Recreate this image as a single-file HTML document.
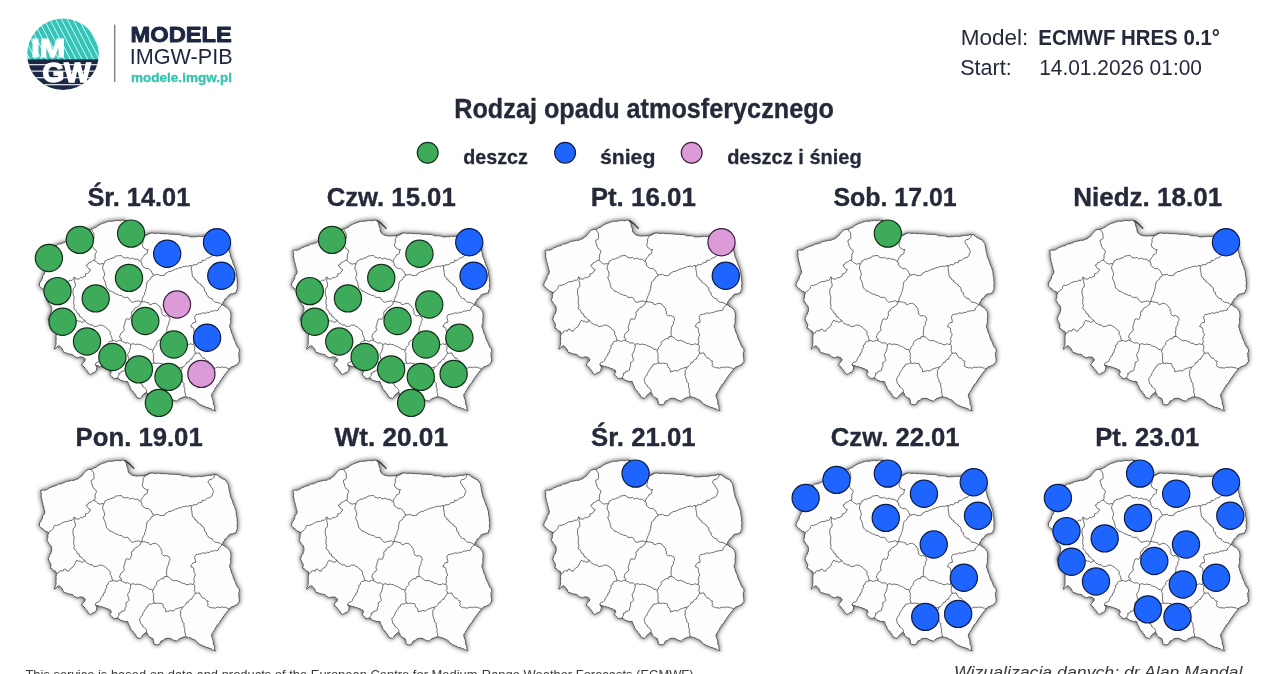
<!DOCTYPE html>
<html><head><meta charset="utf-8">
<style>
html,body{margin:0;padding:0;background:#fff;}
body{width:1280px;height:674px;position:relative;overflow:hidden;}
svg{position:absolute;left:0;top:0;font-family:"Liberation Sans",sans-serif;}
</style></head>
<body>
<svg width="1280" height="674" viewBox="0 0 1280 674">
<defs>
 <filter id="sh" filterUnits="userSpaceOnUse" x="15" y="200" width="250" height="235">
  <feGaussianBlur in="SourceAlpha" stdDeviation="2.5"/>
  <feOffset dx="0.3" dy="0.4" result="b"/>
  <feComponentTransfer><feFuncA type="linear" slope="0.75"/></feComponentTransfer>
  <feMerge><feMergeNode/><feMergeNode in="SourceGraphic"/></feMerge>
 </filter>
 <g id="pl">
  <path d="M124.8 220.6 128.9 223.3 133.7 228.2" fill="none" stroke="#444" stroke-width="1.5" stroke-linecap="round" filter="url(#sh)"/>
  <path d="M40.6 250.5 42.6 250.1 44.6 250.2 46.2 249.8 47.7 249.1 49.0 248.0 50.5 247.5 52.0 246.8 53.5 246.2 55.0 245.8 56.6 245.4 57.9 244.3 59.3 243.8 61.0 243.9 62.4 243.0 64.0 242.8 65.3 241.7 66.9 241.5 68.4 241.0 70.0 240.9 71.6 240.2 73.3 240.4 74.9 240.0 76.3 239.0 78.0 239.1 78.8 237.8 80.2 237.1 81.5 236.3 82.4 235.0 83.5 233.7 84.5 232.4 85.7 231.4 86.9 230.2 88.3 229.5 89.9 229.4 91.4 229.3 93.1 228.5 94.8 227.7 96.5 226.9 98.1 225.5 100.0 224.5 101.5 223.7 103.1 223.1 104.8 222.7 106.3 222.0 108.0 221.6 109.6 221.0 111.4 221.4 113.0 221.0 114.7 220.8 116.3 220.5 117.8 220.2 119.3 220.8 120.8 220.7 122.3 220.0 123.8 220.3 125.9 222.4 126.5 223.9 126.7 225.6 127.2 227.1 127.9 228.6 128.0 230.8 128.8 232.8 130.1 233.8 131.3 234.8 133.2 235.5 135.1 235.8 137.1 236.1 138.7 235.8 140.4 235.8 142.1 235.9 143.8 235.7 145.4 235.3 147.0 234.6 148.7 234.0 150.3 233.2 151.9 232.9 153.5 233.1 155.1 233.6 156.7 233.3 158.2 233.1 159.8 233.5 161.4 233.6 163.0 233.5 164.5 233.8 166.1 233.6 167.6 233.8 169.1 234.0 170.7 234.3 172.2 234.2 173.7 234.2 175.3 234.4 176.8 234.5 178.4 234.4 180.0 234.6 181.4 235.4 182.9 235.8 184.5 235.7 186.1 235.8 187.7 235.8 189.2 236.3 190.7 237.0 192.3 236.8 193.9 236.9 195.4 236.6 197.0 236.8 198.5 236.2 200.1 236.3 201.7 236.6 203.2 236.2 204.8 236.0 206.5 235.7 208.1 235.3 209.9 235.3 211.6 235.4 213.2 234.4 214.9 234.5 217.6 235.0 218.6 236.3 219.9 237.2 221.5 238.2 223.2 239.1 225.1 239.6 225.9 241.0 226.8 242.3 228.0 243.4 228.4 245.3 228.8 247.1 229.0 248.8 229.3 250.6 229.5 252.3 230.3 253.9 230.2 255.8 231.0 257.4 231.5 258.9 232.3 260.3 232.6 261.9 233.2 263.4 233.8 265.0 234.5 266.6 235.1 268.2 235.6 269.9 236.2 271.5 236.3 273.2 236.4 274.9 236.7 276.6 237.2 278.3 237.0 280.0 237.3 281.6 237.5 283.3 237.2 284.9 237.1 286.6 237.5 288.2 236.8 289.7 236.3 291.3 236.0 293.0 234.4 293.1 232.9 293.9 231.2 293.9 229.7 294.5 228.4 295.5 227.6 297.0 226.4 298.2 225.0 299.0 224.6 300.6 223.3 301.7 222.9 303.3 222.0 304.6 223.5 305.1 224.6 306.3 226.0 306.9 227.3 307.8 228.7 309.1 229.8 310.6 230.7 312.2 230.7 313.9 231.0 315.6 230.9 317.2 230.5 318.9 230.7 320.6 230.7 322.3 230.4 323.8 229.9 325.2 229.5 326.7 230.4 328.3 230.7 330.0 231.3 331.7 231.8 333.4 232.6 334.7 233.2 336.1 233.2 337.7 234.0 339.0 234.7 340.8 235.7 342.6 236.2 344.5 237.0 345.9 237.7 347.4 239.1 348.5 239.6 350.1 239.4 351.9 238.5 353.5 239.0 355.0 238.8 356.6 239.4 358.1 239.2 359.7 239.6 361.2 238.3 362.8 237.3 364.6 235.5 365.3 233.7 366.3 231.8 366.8 230.4 367.7 229.4 368.9 228.4 370.2 227.3 371.3 226.4 372.9 225.1 374.1 224.2 375.6 223.1 377.0 222.1 378.4 221.3 379.9 220.2 381.1 219.6 382.7 218.5 384.0 217.1 385.1 216.5 386.7 215.4 387.9 215.0 389.5 213.8 390.7 213.4 392.2 212.1 393.4 211.6 394.9 211.7 396.6 212.3 398.1 212.8 399.7 213.3 401.3 213.3 403.0 213.5 404.7 214.6 406.1 214.4 407.8 214.8 409.4 215.6 410.9 214.2 410.3 212.7 410.0 211.5 408.9 210.0 408.6 208.2 407.7 206.2 407.5 204.9 406.6 203.4 406.1 201.9 405.4 200.5 404.7 199.1 403.9 197.7 402.9 196.8 401.5 195.5 400.4 193.7 399.5 191.9 398.8 190.2 397.7 188.6 397.7 187.2 397.0 185.7 396.8 183.0 397.3 181.3 398.1 179.5 398.6 178.2 400.0 176.8 401.3 174.1 400.4 172.3 399.6 170.6 398.6 168.8 398.3 167.0 398.3 165.2 398.6 163.9 399.8 162.4 400.6 160.8 401.3 160.0 403.1 159.0 404.8 156.4 404.8 153.7 403.9 153.8 402.1 153.3 400.3 152.8 398.6 150.9 397.8 149.2 396.8 148.1 395.5 147.6 393.8 146.6 392.4 145.1 393.0 143.9 394.1 142.4 395.4 141.6 397.2 140.3 398.6 138.6 397.9 136.8 397.7 136.0 395.8 135.0 394.1 133.7 392.7 132.8 391.1 131.2 390.0 130.3 388.4 130.0 386.7 128.9 385.2 128.3 383.5 127.9 381.8 126.2 381.4 124.5 381.6 121.9 380.6 120.2 380.0 118.7 378.7 117.0 378.1 115.4 378.4 113.8 378.9 113.0 377.5 111.7 376.5 110.6 375.3 109.7 374.0 111.3 372.4 110.5 370.0 109.0 369.7 107.7 368.7 106.1 368.4 104.8 367.7 103.2 367.5 101.7 366.6 99.9 366.7 98.5 365.8 96.8 365.6 95.3 364.7 96.9 367.1 96.7 368.8 96.2 370.5 95.3 372.0 93.5 372.6 91.9 373.5 90.4 374.5 88.4 373.4 87.8 371.7 86.7 370.3 85.2 368.6 84.0 366.8 81.8 365.4 82.2 363.7 83.6 362.4 84.9 361.0 85.3 359.2 83.6 357.4 81.6 357.0 79.6 357.0 77.8 357.9 76.2 357.3 74.7 356.6 73.4 355.4 72.0 354.3 70.4 354.3 68.9 353.9 67.2 353.6 65.8 352.6 64.4 353.0 63.4 351.5 62.7 349.9 62.1 348.5 60.9 347.5 60.0 346.3 58.6 345.9 57.0 346.7 55.9 348.1 54.5 349.2 54.7 347.5 55.5 346.0 56.0 344.3 56.1 342.6 55.8 341.0 56.3 339.5 55.9 338.0 56.0 336.4 56.3 334.9 56.3 333.0 55.6 331.2 54.1 330.8 52.9 329.9 51.9 328.6 50.4 328.2 50.7 326.3 51.1 324.5 50.1 323.1 49.4 321.6 48.7 320.1 48.2 318.5 49.0 317.2 49.2 315.6 50.5 314.4 50.8 312.9 51.5 311.5 51.7 309.6 51.6 307.7 51.1 305.9 50.0 304.7 48.9 303.4 48.1 302.0 47.1 300.7 47.1 299.1 47.9 297.6 47.7 296.0 48.0 294.5 48.7 293.0 47.3 291.8 45.6 291.3 44.2 290.4 43.1 289.1 41.8 288.2 40.5 287.2 39.3 286.0 39.4 283.9 40.1 282.0 41.1 280.8 41.8 279.5 42.5 278.1 42.5 276.5 43.3 275.2 44.2 274.0 44.8 272.6 44.8 271.0 44.1 269.5 43.9 267.9 43.5 266.3 42.9 264.9 42.8 263.3 42.2 261.7 41.8 260.2 41.7 258.6 41.1 257.0 41.1 255.4 41.4 253.7 40.8 252.1 40.6 250.5Z" fill="#fdfdfd" stroke="#464646" stroke-width="0.9" stroke-linejoin="round" filter="url(#sh)"/>
  <path d="M91.4 229.3 92.4 231.1 93.6 232.8 94.0 234.5 93.9 236.3 94.3 238.0 93.1 239.5 91.3 240.2 91.2 242.2 92.1 244.0 92.3 245.9 93.3 247.5 94.3 249.1 95.8 250.0 96.5 251.7 95.7 253.4 95.0 255.1 95.1 256.9 95.0 258.6 94.4 260.3 M94.4 260.3 95.7 261.2 96.7 262.4 98.0 263.3 99.9 264.2 101.9 263.6 103.9 263.9 104.5 262.4 105.1 260.9 106.6 260.5 107.7 259.2 109.4 259.2 110.9 258.8 112.2 258.0 114.1 257.9 115.5 256.1 117.4 255.9 119.3 255.6 121.3 255.5 122.7 257.3 124.5 257.7 126.4 258.0 127.9 257.2 129.4 258.8 130.9 258.8 132.4 258.0 133.7 258.8 135.1 259.3 136.8 259.2 138.3 259.6 139.3 261.0 140.7 261.5 M140.7 261.5 141.5 259.2 142.5 257.7 143.7 256.3 144.5 254.7 146.1 254.2 147.4 253.2 147.2 251.2 148.2 249.5 146.4 249.8 145.1 248.7 143.7 248.0 142.6 246.3 142.2 244.3 143.0 242.6 143.1 240.9 143.0 239.1 143.9 237.7 144.5 236.2 146.0 235.5 147.5 234.9 148.6 233.4 150.3 233.2 M140.7 261.5 141.8 263.0 141.9 265.0 143.0 266.6 144.5 267.6 146.1 268.6 148.2 268.3 149.6 269.5 151.1 270.7 151.9 272.5 153.4 275.0 M153.4 275.0 156.3 274.7 158.1 274.2 159.6 275.4 161.3 275.6 163.0 275.5 164.9 275.1 165.7 273.2 167.4 272.5 169.0 271.4 171.0 271.4 172.6 270.3 174.2 270.0 175.5 268.9 177.2 268.9 178.6 268.1 180.0 267.6 181.7 267.8 182.9 266.3 184.5 266.6 186.0 265.9 187.8 266.8 189.2 265.6 190.8 265.6 M190.8 265.6 192.5 266.1 193.7 264.3 195.4 264.9 197.1 264.5 198.1 262.9 199.8 262.6 201.7 262.4 202.4 260.1 204.6 260.5 206.0 259.3 207.3 258.2 209.3 257.7 211.1 256.9 212.4 255.2 212.7 253.2 213.9 251.5 212.9 250.3 212.7 248.6 211.4 247.7 210.6 246.3 210.2 244.8 208.7 243.6 208.0 241.9 209.5 239.6 211.3 239.3 212.7 238.6 213.9 237.2 214.9 234.8 M190.8 265.6 191.3 267.3 191.3 269.0 191.7 270.7 191.9 272.4 192.2 274.1 192.3 275.8 193.0 277.2 194.5 278.0 194.9 279.7 196.7 280.3 197.0 282.0 198.4 282.7 199.6 283.7 201.1 284.3 201.7 286.1 203.2 286.7 204.3 288.1 204.3 290.0 204.9 291.7 206.7 292.7 206.5 294.8 207.9 296.0 208.8 297.5 210.2 298.4 212.2 298.7 212.9 300.3 214.1 301.5 215.6 302.3 217.4 302.4 219.0 302.9 220.5 303.7 222.0 304.6 M222.0 304.6 221.1 305.9 219.8 307.0 218.6 308.2 218.4 310.0 217.0 310.7 215.4 310.3 214.0 311.1 212.3 311.0 210.6 311.4 209.1 312.6 207.3 312.2 205.9 313.3 204.1 313.1 202.4 312.8 201.0 313.9 199.3 313.8 197.8 314.5 196.1 314.5 195.2 315.8 194.6 317.2 195.0 318.9 195.5 320.6 195.6 322.3 193.2 322.7 191.7 324.5 190.6 326.7 192.7 327.2 193.9 329.0 193.8 330.6 194.0 332.1 195.0 333.4 195.4 335.0 194.3 336.5 194.3 338.1 193.5 339.5 194.6 341.2 193.8 342.7 193.7 344.3 M153.4 275.0 152.8 276.5 151.1 277.1 150.5 278.7 149.6 280.0 148.2 280.8 147.1 282.0 146.8 283.6 146.5 285.1 146.3 286.7 146.3 288.3 145.6 289.8 145.6 291.4 144.5 292.6 144.6 294.3 143.7 295.6 143.1 297.0 142.5 298.4 142.0 299.8 142.3 301.5 M103.9 263.9 103.0 265.6 102.7 267.4 102.7 269.0 103.6 270.4 104.0 271.9 104.5 273.4 104.5 275.4 103.3 277.2 103.9 279.3 104.7 280.9 105.4 282.5 105.7 284.2 106.2 285.8 106.3 287.6 107.7 288.6 108.9 289.7 109.8 291.2 111.7 291.3 113.1 292.4 114.7 293.1 116.1 294.2 117.9 294.3 119.3 295.5 121.0 295.4 122.3 296.2 123.5 297.3 125.6 297.4 127.7 297.4 129.0 298.5 129.8 300.2 130.9 301.5 132.5 302.4 134.5 301.7 136.6 301.3 138.5 300.7 140.4 301.8 142.3 301.5 M94.4 260.3 92.7 260.5 91.5 261.6 90.0 262.3 88.5 262.9 87.7 264.7 86.1 265.1 87.1 266.4 88.0 267.9 89.2 269.1 90.8 269.8 89.5 270.9 88.8 272.6 87.4 273.5 85.5 273.9 85.4 276.2 83.7 276.9 82.3 277.8 80.5 277.4 79.3 278.8 77.8 279.3 75.7 278.5 74.2 276.9 73.3 278.9 71.9 280.5 70.0 280.1 68.3 281.4 66.5 281.5 64.7 281.7 63.0 282.5 61.3 283.2 60.0 284.6 58.3 284.8 56.7 285.6 54.9 285.1 53.8 286.3 53.5 288.2 52.3 289.5 51.2 290.7 49.5 291.5 48.7 293.0 M74.2 276.9 75.0 278.5 74.4 280.3 74.7 281.9 75.2 283.5 75.4 285.2 75.2 286.9 73.7 288.0 73.1 289.5 73.0 291.2 73.1 293.0 73.2 294.7 73.8 296.4 74.3 298.2 73.6 300.0 73.9 301.8 73.6 303.7 74.5 305.5 73.8 307.4 74.2 309.1 75.8 310.2 76.7 311.7 77.1 313.4 79.1 314.0 79.5 316.5 81.5 317.1 82.3 318.4 83.3 319.6 84.8 320.2 M56.5 333.6 58.4 333.0 59.3 331.2 61.1 330.6 63.0 331.2 63.5 329.5 65.2 328.9 66.6 330.8 68.9 331.2 69.7 329.6 70.9 328.2 72.6 327.4 74.0 325.7 74.9 323.7 75.8 321.7 77.1 320.0 78.3 321.4 80.2 321.1 81.5 322.3 83.6 321.9 84.8 320.2 M84.8 320.2 85.7 321.9 87.0 323.2 88.9 323.8 90.1 325.1 92.2 324.6 93.3 326.1 94.8 326.7 96.3 326.3 97.8 326.2 99.1 325.2 100.6 325.1 102.2 325.3 103.8 326.3 105.5 327.1 106.7 328.5 108.2 329.7 109.7 330.8 110.3 332.3 110.1 334.3 111.1 335.6 111.7 337.3 112.1 339.1 112.6 340.8 M112.6 340.8 111.0 341.1 109.5 341.5 108.3 342.6 108.2 344.4 106.2 345.6 106.9 347.7 105.5 349.1 105.1 350.8 105.0 352.5 103.3 353.4 103.5 355.3 102.0 356.2 101.3 357.6 100.5 359.0 100.2 360.6 99.0 361.7 97.4 362.2 96.0 363.0 95.3 364.7 M112.6 340.8 114.3 340.5 116.0 341.4 117.7 341.2 119.3 340.1 121.0 340.5 M142.3 301.5 140.9 302.5 140.5 304.4 139.0 305.4 137.5 307.0 135.4 307.8 134.1 308.9 133.6 310.7 131.9 311.4 131.4 313.2 131.9 315.0 130.9 316.6 130.7 318.5 129.2 319.5 127.5 318.7 126.0 319.2 125.6 320.9 124.9 322.6 124.7 324.4 123.9 326.1 123.7 327.9 124.5 329.7 123.5 331.3 121.8 332.3 120.7 333.8 120.0 335.6 119.5 337.4 121.5 338.7 121.0 340.5 M121.0 340.5 122.5 341.4 124.0 342.1 125.4 343.2 127.5 342.7 129.1 343.2 130.4 344.5 M130.4 344.5 132.2 343.8 134.0 343.9 135.7 344.7 137.5 344.0 139.3 344.5 141.0 344.5 142.3 345.6 143.8 346.2 145.4 346.4 146.7 347.5 148.3 348.1 149.4 349.5 151.5 349.2 152.7 350.5 M152.7 350.5 153.6 349.0 154.2 347.4 155.3 346.0 156.7 344.6 156.6 342.5 157.8 341.0 159.2 340.3 160.4 339.3 161.8 338.6 163.7 338.7 164.3 336.7 166.0 336.5 M142.3 301.5 143.8 301.9 145.3 301.8 146.7 302.5 148.5 302.6 149.3 304.3 150.8 304.8 152.3 303.8 153.9 303.4 155.6 303.3 157.5 304.5 159.1 306.0 160.1 307.7 161.5 309.0 161.0 310.6 162.2 311.9 161.6 313.6 162.7 314.9 164.4 316.0 166.3 315.5 167.8 316.2 169.1 316.9 169.8 318.5 170.1 320.3 168.7 321.7 169.0 323.5 168.4 325.0 167.4 326.4 166.9 327.9 166.9 329.6 166.7 331.2 166.4 333.0 167.0 334.8 166.0 336.5 M166.0 336.5 168.0 336.7 169.5 337.8 170.9 339.1 172.4 340.2 174.0 340.9 175.8 340.4 177.5 340.8 179.0 341.8 180.8 342.0 182.1 343.5 184.1 343.1 185.5 344.3 187.1 344.7 188.8 344.6 190.4 343.7 192.1 344.4 193.7 344.3 M193.7 344.3 194.7 345.7 194.7 347.2 194.8 348.7 194.1 350.4 195.0 351.8 195.3 353.3 M195.3 353.3 197.4 353.2 199.5 352.9 200.4 355.0 201.7 356.8 202.7 358.1 204.6 358.2 205.6 359.7 206.7 360.9 208.4 361.2 207.4 362.5 208.2 364.3 207.3 365.7 208.7 366.7 210.1 367.3 211.7 367.9 213.4 367.7 215.1 368.3 216.7 367.4 218.4 367.1 220.1 367.7 221.7 366.8 223.1 367.4 224.8 367.2 226.2 367.9 228.0 368.2 229.5 369.2 M195.3 353.3 194.4 354.7 193.5 356.1 192.3 357.3 192.0 359.0 190.3 359.5 189.1 360.5 188.5 362.2 186.6 362.5 186.0 364.2 184.9 365.3 183.9 366.6 182.2 367.1 M182.2 367.1 180.5 367.7 178.8 368.0 177.2 368.7 175.5 369.2 174.1 370.4 172.5 371.1 170.7 370.3 169.2 371.2 167.5 371.3 165.9 372.0 165.7 370.2 165.3 368.5 163.6 367.3 163.1 365.6 162.7 363.9 161.1 363.4 159.4 363.4 157.8 363.0 156.1 363.5 154.5 363.1 M182.2 367.1 182.0 369.1 180.5 370.7 180.8 372.8 180.4 374.7 180.8 376.5 181.4 378.2 182.2 379.9 182.2 381.9 184.1 383.2 183.9 385.2 184.0 387.0 184.9 388.7 184.8 390.6 184.6 392.2 185.4 393.7 185.4 395.3 185.7 396.8 M152.7 350.5 152.6 352.2 153.9 353.8 153.3 355.6 153.7 357.3 153.4 359.3 153.7 361.2 154.5 363.1 M154.5 363.1 152.9 363.3 151.4 364.1 149.7 364.0 148.3 364.8 148.0 366.5 146.3 367.3 145.9 368.9 144.8 370.1 143.9 371.9 142.8 373.2 142.6 375.0 141.4 376.3 140.6 377.8 139.4 379.0 140.1 380.7 140.3 382.6 141.1 384.1 142.5 385.0 142.9 386.8 144.5 387.7 145.7 388.8 146.6 390.5 146.6 392.4 M130.4 344.5 130.7 346.7 130.1 348.8 129.7 350.3 129.3 351.9 128.4 353.1 127.6 354.5 128.1 356.4 128.5 358.4 129.3 360.2 127.9 361.7 126.0 362.6 126.0 364.5 126.1 366.4 124.9 368.1 125.2 370.0 123.7 371.1 121.7 371.0 120.6 373.1 118.7 373.2 119.1 375.0 118.1 376.6 117.6 378.2" fill="none" stroke="#474747" stroke-width="0.8" stroke-linejoin="round"/>
 </g>
</defs>

<g id="logo">
 <defs>
  <clipPath id="lc"><circle cx="63" cy="54.2" r="35.8"/></clipPath>
  <pattern id="diag" patternUnits="userSpaceOnUse" width="5.8" height="60" patternTransform="skewX(27)">
   <rect width="5.8" height="60" fill="#35c4b9"/><rect x="4.8" width="0.9" height="60" fill="#e4fffb"/>
  </pattern>
 </defs>
 <g clip-path="url(#lc)">
  <rect x="20" y="15" width="90" height="45" fill="url(#diag)"/>
  <rect x="20" y="59.4" width="90" height="35" fill="#1c2843"/>
  <rect x="20" y="64.0" width="90" height="1.3" fill="#d4dae6"/>
  <rect x="20" y="70.5" width="90" height="1.3" fill="#d4dae6"/>
  <rect x="20" y="77.0" width="90" height="1.3" fill="#d4dae6"/>
  <rect x="20" y="84.0" width="90" height="1.3" fill="#d4dae6"/>
 </g>
 <g style="opacity:0.999"><text x="31.2" y="57.3" font-size="26.5" font-weight="bold" fill="#fff" stroke="#fff" stroke-width="1.2" textLength="34.0" lengthAdjust="spacingAndGlyphs">IM</text>
 <text x="42.6" y="81.8" font-size="28" font-weight="bold" fill="#fff" stroke="#fff" stroke-width="1.4" textLength="48.2" lengthAdjust="spacingAndGlyphs">GW</text></g>
</g>

<rect x="114.3" y="24.6" width="1.0" height="57.4" fill="#474d5c"/>
<g style="opacity:0.999"><text id="modele" x="130.46" y="42.00" font-size="22.24" font-weight="bold" fill="#1c2640" stroke="#1c2640" stroke-width="0.9" stroke-linejoin="round" textLength="101.39" lengthAdjust="spacingAndGlyphs">MODELE</text>
<text id="imgw" x="129.67" y="64.10" font-size="22.31" font-weight="normal" fill="#1c2640" textLength="102.94" lengthAdjust="spacingAndGlyphs">IMGW-PIB</text>
<text id="url" x="130.98" y="81.50" font-size="12.00" font-weight="bold" fill="#33c6b0" stroke="#33c6b0" stroke-width="0.3" stroke-linejoin="round" textLength="101.08" lengthAdjust="spacingAndGlyphs">modele.imgw.pl</text>
<text id="model" x="960.77" y="45.40" font-size="22.67" font-weight="normal" fill="#252a3a" textLength="67.52" lengthAdjust="spacingAndGlyphs">Model:</text>
<text id="ecmwf" x="1038.27" y="45.40" font-size="22.67" font-weight="bold" fill="#252a3a" textLength="181.69" lengthAdjust="spacingAndGlyphs">ECMWF HRES 0.1°</text>
<text id="start" x="960.23" y="75.10" font-size="22.67" font-weight="normal" fill="#252a3a" textLength="51.45" lengthAdjust="spacingAndGlyphs">Start:</text>
<text id="date" x="1039.14" y="75.10" font-size="22.67" font-weight="normal" fill="#252a3a" textLength="162.84" lengthAdjust="spacingAndGlyphs">14.01.2026 01:00</text>
<text id="title" x="454.25" y="118.30" font-size="27.80" font-weight="bold" fill="#252a3a" stroke="#252a3a" stroke-width="0.35" stroke-linejoin="round" textLength="379.75" lengthAdjust="spacingAndGlyphs">Rodzaj opadu atmosferycznego</text>
<text id="l1" x="463.20" y="163.90" font-size="21.00" font-weight="bold" fill="#252a3a" stroke="#252a3a" stroke-width="0.3" stroke-linejoin="round" textLength="64.62" lengthAdjust="spacingAndGlyphs">deszcz</text>
<text id="l2" x="599.97" y="163.90" font-size="21.00" font-weight="bold" fill="#252a3a" stroke="#252a3a" stroke-width="0.3" stroke-linejoin="round" textLength="55.37" lengthAdjust="spacingAndGlyphs">śnieg</text>
<text id="l3" x="727.14" y="163.90" font-size="21.00" font-weight="bold" fill="#252a3a" stroke="#252a3a" stroke-width="0.3" stroke-linejoin="round" textLength="134.50" lengthAdjust="spacingAndGlyphs">deszcz i śnieg</text>
<text id="foot1" x="25.43" y="679.00" font-size="13.50" font-weight="normal" fill="#3a3a3a" textLength="671.75" lengthAdjust="spacingAndGlyphs">This service is based on data and products of the European Centre for Medium-Range Weather Forecasts (ECMWF).</text>
<text id="foot2" x="954.03" y="678.20" font-size="16.50" font-weight="normal" fill="#3a3a3a" font-style="italic" textLength="288.38" lengthAdjust="spacingAndGlyphs">Wizualizacja danych: dr Alan Mandal</text>
<text id="mt00" x="87.38" y="205.90" font-size="26.10" font-weight="bold" fill="#252a3a" stroke="#252a3a" stroke-width="0.35" stroke-linejoin="round" textLength="102.89" lengthAdjust="spacingAndGlyphs">Śr. 14.01</text>
<text id="mt10" x="326.67" y="205.90" font-size="26.10" font-weight="bold" fill="#252a3a" stroke="#252a3a" stroke-width="0.35" stroke-linejoin="round" textLength="129.03" lengthAdjust="spacingAndGlyphs">Czw. 15.01</text>
<text id="mt20" x="590.65" y="205.90" font-size="26.10" font-weight="bold" fill="#252a3a" stroke="#252a3a" stroke-width="0.35" stroke-linejoin="round" textLength="105.22" lengthAdjust="spacingAndGlyphs">Pt. 16.01</text>
<text id="mt30" x="833.40" y="205.90" font-size="26.10" font-weight="bold" fill="#252a3a" stroke="#252a3a" stroke-width="0.35" stroke-linejoin="round" textLength="123.26" lengthAdjust="spacingAndGlyphs">Sob. 17.01</text>
<text id="mt40" x="1073.20" y="205.90" font-size="26.10" font-weight="bold" fill="#252a3a" stroke="#252a3a" stroke-width="0.35" stroke-linejoin="round" textLength="148.93" lengthAdjust="spacingAndGlyphs">Niedz. 18.01</text>
<text id="mt01" x="75.61" y="445.90" font-size="26.10" font-weight="bold" fill="#252a3a" stroke="#252a3a" stroke-width="0.35" stroke-linejoin="round" textLength="127.10" lengthAdjust="spacingAndGlyphs">Pon. 19.01</text>
<text id="mt11" x="334.47" y="445.90" font-size="26.10" font-weight="bold" fill="#252a3a" stroke="#252a3a" stroke-width="0.35" stroke-linejoin="round" textLength="113.53" lengthAdjust="spacingAndGlyphs">Wt. 20.01</text>
<text id="mt21" x="591.10" y="445.90" font-size="26.10" font-weight="bold" fill="#252a3a" stroke="#252a3a" stroke-width="0.35" stroke-linejoin="round" textLength="104.46" lengthAdjust="spacingAndGlyphs">Śr. 21.01</text>
<text id="mt31" x="830.80" y="445.90" font-size="26.10" font-weight="bold" fill="#252a3a" stroke="#252a3a" stroke-width="0.35" stroke-linejoin="round" textLength="128.80" lengthAdjust="spacingAndGlyphs">Czw. 22.01</text>
<text id="mt41" x="1095.16" y="445.90" font-size="26.10" font-weight="bold" fill="#252a3a" stroke="#252a3a" stroke-width="0.35" stroke-linejoin="round" textLength="103.99" lengthAdjust="spacingAndGlyphs">Pt. 23.01</text></g>
<circle cx="427.7" cy="152.8" r="10.4" fill="#3dab5a" stroke="#14301c" stroke-width="1.2"/>
<circle cx="565.1" cy="152.7" r="10.4" fill="#1e64ff" stroke="#0c1c48" stroke-width="1.2"/>
<circle cx="691.7" cy="152.8" r="10.4" fill="#dc9ad9" stroke="#3a1f3a" stroke-width="1.2"/>
<g transform="translate(0.00,0.00)">
<use href="#pl"/>
<circle cx="48.9" cy="258" r="13.6" fill="#3dab5a" stroke="#14301c" stroke-width="1.2"/>
<circle cx="79.8" cy="239.9" r="13.6" fill="#3dab5a" stroke="#14301c" stroke-width="1.2"/>
<circle cx="131.1" cy="233.6" r="13.6" fill="#3dab5a" stroke="#14301c" stroke-width="1.2"/>
<circle cx="167.2" cy="253.8" r="13.6" fill="#1e64ff" stroke="#0c1c48" stroke-width="1.2"/>
<circle cx="217" cy="242.2" r="13.6" fill="#1e64ff" stroke="#0c1c48" stroke-width="1.2"/>
<circle cx="221.3" cy="275.7" r="13.6" fill="#1e64ff" stroke="#0c1c48" stroke-width="1.2"/>
<circle cx="57.5" cy="291.1" r="13.6" fill="#3dab5a" stroke="#14301c" stroke-width="1.2"/>
<circle cx="95.7" cy="298.4" r="13.6" fill="#3dab5a" stroke="#14301c" stroke-width="1.2"/>
<circle cx="129" cy="277.9" r="13.6" fill="#3dab5a" stroke="#14301c" stroke-width="1.2"/>
<circle cx="177" cy="304.5" r="13.6" fill="#dc9ad9" stroke="#3a1f3a" stroke-width="1.2"/>
<circle cx="62.6" cy="321.7" r="13.6" fill="#3dab5a" stroke="#14301c" stroke-width="1.2"/>
<circle cx="145.3" cy="321" r="13.6" fill="#3dab5a" stroke="#14301c" stroke-width="1.2"/>
<circle cx="87" cy="341.5" r="13.6" fill="#3dab5a" stroke="#14301c" stroke-width="1.2"/>
<circle cx="207.1" cy="337.7" r="13.6" fill="#1e64ff" stroke="#0c1c48" stroke-width="1.2"/>
<circle cx="173.8" cy="344.5" r="13.6" fill="#3dab5a" stroke="#14301c" stroke-width="1.2"/>
<circle cx="112.4" cy="357" r="13.6" fill="#3dab5a" stroke="#14301c" stroke-width="1.2"/>
<circle cx="138.9" cy="369.4" r="13.6" fill="#3dab5a" stroke="#14301c" stroke-width="1.2"/>
<circle cx="201.4" cy="373.9" r="13.6" fill="#dc9ad9" stroke="#3a1f3a" stroke-width="1.2"/>
<circle cx="168.5" cy="376.9" r="13.6" fill="#3dab5a" stroke="#14301c" stroke-width="1.2"/>
<circle cx="158.9" cy="402.9" r="13.6" fill="#3dab5a" stroke="#14301c" stroke-width="1.2"/>
</g>
<g transform="translate(252.25,0.00)">
<use href="#pl"/>
<circle cx="79.8" cy="239.9" r="13.6" fill="#3dab5a" stroke="#14301c" stroke-width="1.2"/>
<circle cx="167.2" cy="253.8" r="13.6" fill="#3dab5a" stroke="#14301c" stroke-width="1.2"/>
<circle cx="217" cy="242.2" r="13.6" fill="#1e64ff" stroke="#0c1c48" stroke-width="1.2"/>
<circle cx="221.3" cy="275.7" r="13.6" fill="#1e64ff" stroke="#0c1c48" stroke-width="1.2"/>
<circle cx="57.5" cy="291.1" r="13.6" fill="#3dab5a" stroke="#14301c" stroke-width="1.2"/>
<circle cx="95.7" cy="298.4" r="13.6" fill="#3dab5a" stroke="#14301c" stroke-width="1.2"/>
<circle cx="129" cy="277.9" r="13.6" fill="#3dab5a" stroke="#14301c" stroke-width="1.2"/>
<circle cx="177" cy="304.5" r="13.6" fill="#3dab5a" stroke="#14301c" stroke-width="1.2"/>
<circle cx="62.6" cy="321.7" r="13.6" fill="#3dab5a" stroke="#14301c" stroke-width="1.2"/>
<circle cx="145.3" cy="321" r="13.6" fill="#3dab5a" stroke="#14301c" stroke-width="1.2"/>
<circle cx="87" cy="341.5" r="13.6" fill="#3dab5a" stroke="#14301c" stroke-width="1.2"/>
<circle cx="207.1" cy="337.7" r="13.6" fill="#3dab5a" stroke="#14301c" stroke-width="1.2"/>
<circle cx="173.8" cy="344.5" r="13.6" fill="#3dab5a" stroke="#14301c" stroke-width="1.2"/>
<circle cx="112.4" cy="357" r="13.6" fill="#3dab5a" stroke="#14301c" stroke-width="1.2"/>
<circle cx="138.9" cy="369.4" r="13.6" fill="#3dab5a" stroke="#14301c" stroke-width="1.2"/>
<circle cx="201.4" cy="373.9" r="13.6" fill="#3dab5a" stroke="#14301c" stroke-width="1.2"/>
<circle cx="168.5" cy="376.9" r="13.6" fill="#3dab5a" stroke="#14301c" stroke-width="1.2"/>
<circle cx="158.9" cy="402.9" r="13.6" fill="#3dab5a" stroke="#14301c" stroke-width="1.2"/>
</g>
<g transform="translate(504.50,0.00)">
<use href="#pl"/>
<circle cx="217" cy="242.2" r="13.6" fill="#dc9ad9" stroke="#3a1f3a" stroke-width="1.2"/>
<circle cx="221.3" cy="275.7" r="13.6" fill="#1e64ff" stroke="#0c1c48" stroke-width="1.2"/>
</g>
<g transform="translate(756.75,0.00)">
<use href="#pl"/>
<circle cx="131.1" cy="233.6" r="13.6" fill="#3dab5a" stroke="#14301c" stroke-width="1.2"/>
</g>
<g transform="translate(1009.00,0.00)">
<use href="#pl"/>
<circle cx="217" cy="242.2" r="13.6" fill="#1e64ff" stroke="#0c1c48" stroke-width="1.2"/>
</g>
<g transform="translate(0.00,240.00)">
<use href="#pl"/>
</g>
<g transform="translate(252.25,240.00)">
<use href="#pl"/>
</g>
<g transform="translate(504.50,240.00)">
<use href="#pl"/>
<circle cx="131.1" cy="233.6" r="13.6" fill="#1e64ff" stroke="#0c1c48" stroke-width="1.2"/>
</g>
<g transform="translate(756.75,240.00)">
<use href="#pl"/>
<circle cx="48.9" cy="258" r="13.6" fill="#1e64ff" stroke="#0c1c48" stroke-width="1.2"/>
<circle cx="79.8" cy="239.9" r="13.6" fill="#1e64ff" stroke="#0c1c48" stroke-width="1.2"/>
<circle cx="131.1" cy="233.6" r="13.6" fill="#1e64ff" stroke="#0c1c48" stroke-width="1.2"/>
<circle cx="167.2" cy="253.8" r="13.6" fill="#1e64ff" stroke="#0c1c48" stroke-width="1.2"/>
<circle cx="217" cy="242.2" r="13.6" fill="#1e64ff" stroke="#0c1c48" stroke-width="1.2"/>
<circle cx="221.3" cy="275.7" r="13.6" fill="#1e64ff" stroke="#0c1c48" stroke-width="1.2"/>
<circle cx="129" cy="277.9" r="13.6" fill="#1e64ff" stroke="#0c1c48" stroke-width="1.2"/>
<circle cx="177" cy="304.5" r="13.6" fill="#1e64ff" stroke="#0c1c48" stroke-width="1.2"/>
<circle cx="207.1" cy="337.7" r="13.6" fill="#1e64ff" stroke="#0c1c48" stroke-width="1.2"/>
<circle cx="201.4" cy="373.9" r="13.6" fill="#1e64ff" stroke="#0c1c48" stroke-width="1.2"/>
<circle cx="168.5" cy="376.9" r="13.6" fill="#1e64ff" stroke="#0c1c48" stroke-width="1.2"/>
</g>
<g transform="translate(1009.00,240.00)">
<use href="#pl"/>
<circle cx="48.9" cy="258" r="13.6" fill="#1e64ff" stroke="#0c1c48" stroke-width="1.2"/>
<circle cx="131.1" cy="233.6" r="13.6" fill="#1e64ff" stroke="#0c1c48" stroke-width="1.2"/>
<circle cx="167.2" cy="253.8" r="13.6" fill="#1e64ff" stroke="#0c1c48" stroke-width="1.2"/>
<circle cx="217" cy="242.2" r="13.6" fill="#1e64ff" stroke="#0c1c48" stroke-width="1.2"/>
<circle cx="221.3" cy="275.7" r="13.6" fill="#1e64ff" stroke="#0c1c48" stroke-width="1.2"/>
<circle cx="57.5" cy="291.1" r="13.6" fill="#1e64ff" stroke="#0c1c48" stroke-width="1.2"/>
<circle cx="95.7" cy="298.4" r="13.6" fill="#1e64ff" stroke="#0c1c48" stroke-width="1.2"/>
<circle cx="129" cy="277.9" r="13.6" fill="#1e64ff" stroke="#0c1c48" stroke-width="1.2"/>
<circle cx="177" cy="304.5" r="13.6" fill="#1e64ff" stroke="#0c1c48" stroke-width="1.2"/>
<circle cx="62.6" cy="321.7" r="13.6" fill="#1e64ff" stroke="#0c1c48" stroke-width="1.2"/>
<circle cx="145.3" cy="321" r="13.6" fill="#1e64ff" stroke="#0c1c48" stroke-width="1.2"/>
<circle cx="87" cy="341.5" r="13.6" fill="#1e64ff" stroke="#0c1c48" stroke-width="1.2"/>
<circle cx="207.1" cy="337.7" r="13.6" fill="#1e64ff" stroke="#0c1c48" stroke-width="1.2"/>
<circle cx="173.8" cy="344.5" r="13.6" fill="#1e64ff" stroke="#0c1c48" stroke-width="1.2"/>
<circle cx="138.9" cy="369.4" r="13.6" fill="#1e64ff" stroke="#0c1c48" stroke-width="1.2"/>
<circle cx="168.5" cy="376.9" r="13.6" fill="#1e64ff" stroke="#0c1c48" stroke-width="1.2"/>
</g>
</svg>
</body></html>
